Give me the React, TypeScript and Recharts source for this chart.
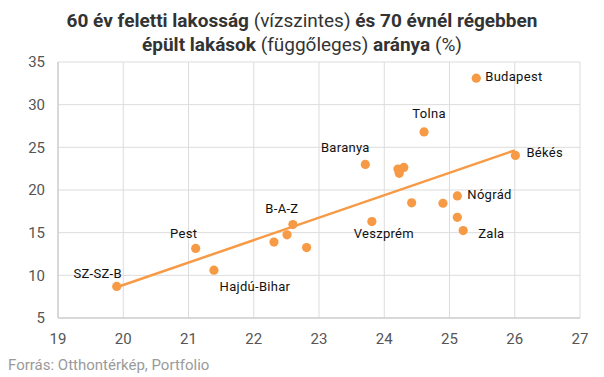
import React from 'react';
import { ScatterChart, Scatter, XAxis, YAxis, CartesianGrid, ReferenceLine } from 'recharts';

const names = ['SZ-SZ-B', 'Pest', 'Hajdú-Bihar', '', '', 'B-A-Z', '', 'Veszprém', '', '', 'Nógrád', '', 'Zala', 'Baranya', '', '', '', 'Tolna', 'Budapest', 'Békés'];
const xValues = [19.9, 21.11, 21.39, 22.31, 22.51, 22.6, 22.81, 23.81, 24.42, 24.9, 25.12, 25.12, 25.21, 23.71, 24.21, 24.23, 24.3, 24.61, 25.41, 26.01];
const yValues = [8.7, 13.15, 10.6, 13.9, 14.75, 15.95, 13.25, 16.3, 18.5, 18.45, 19.3, 16.8, 15.25, 23.0, 22.45, 21.95, 22.65, 26.8, 33.1, 24.05];
const trendX = [19.9, 26.0];
const trendY = [8.6, 24.65];
const xTicks = [19, 20, 21, 22, 23, 24, 25, 26, 27];
const yTicks = [5, 10, 15, 20, 25, 30, 35];

const data = names.map((n, i) => ({ name: n, x: xValues[i], y: yValues[i] }));

// label placement (style only): dx, dy, anchor
const labelPos: Record<string, [number, number, string]> = {
  'SZ-SZ-B': [-19, -8, 'middle'],
  'Pest': [-12, -10, 'middle'],
  'Hajdú-Bihar': [41, 21, 'middle'],
  'B-A-Z': [-11, -12, 'middle'],
  'Veszprém': [12, 16, 'middle'],
  'Nógrád': [10, 3, 'start'],
  'Zala': [15, 7, 'start'],
  'Baranya': [-20, -12, 'middle'],
  'Tolna': [5, -14, 'middle'],
  'Budapest': [9, 3, 'start'],
  'Békés': [11, 2, 'start'],
};

const COLOR = '#F79A45';
const FONT = 'Roboto, sans-serif';

const Dot = (props: any) => {
  const { cx, cy, payload } = props;
  const p = labelPos[payload.name];
  return (
    <g>
      <circle cx={cx} cy={cy} r={4.6} fill={COLOR} />
      {p && (
        <text x={cx + p[0]} y={cy + p[1]} textAnchor={p[2] as any} fontSize={13} fill="#111" fontFamily={FONT} letterSpacing={0.3}>
          {payload.name}
        </text>
      )}
    </g>
  );
};

export default function App() {
  return (
    <div style={{ position: 'absolute', left: 0, top: 0, width: 604, height: 377, background: '#fff', fontFamily: FONT }}>
      <div style={{ position: 'absolute', left: 0, top: 9, width: 604, textAlign: 'center', fontSize: 19, lineHeight: '24px', color: '#333' }}>
        <b>60 év feletti lakosság</b> (vízszintes) <b>és 70 évnél régebben</b>
        <br />
        <b>épült lakások</b> (függőleges) <b>aránya</b> (%)
      </div>
      <div style={{ position: 'absolute', left: 0, top: 0 }}>
        <ScatterChart width={604} height={377} margin={{ top: 62, right: 24, bottom: 29, left: 0 }}>
          <CartesianGrid stroke="#dcdcdc" strokeWidth={1} />
          <XAxis
            type="number"
            dataKey="x"
            domain={[19, 27]}
            ticks={xTicks}
            tickLine={false}
            axisLine={{ stroke: '#c4c4c4' }}
            tickSize={0}
            tickMargin={15}
            height={30}
            tick={{ fontSize: 15, fill: '#555', fontFamily: FONT }}
            interval={0}
          />
          <YAxis
            type="number"
            dataKey="y"
            domain={[5, 35]}
            ticks={yTicks}
            tickLine={false}
            axisLine={{ stroke: '#c4c4c4' }}
            tickSize={0}
            tickMargin={13}
            width={58}
            tick={{ fontSize: 15, fill: '#555', fontFamily: FONT }}
            interval={0}
          />
          <ReferenceLine
            segment={[{ x: trendX[0], y: trendY[0] }, { x: trendX[1], y: trendY[1] }]}
            stroke={COLOR}
            strokeWidth={2.5}
            ifOverflow="visible"
          />
          <Scatter data={data} fill={COLOR} shape={Dot} isAnimationActive={false} />
        </ScatterChart>
      </div>
      <div style={{ position: 'absolute', left: 8, top: 356, fontSize: 15, color: '#9a9a9a' }}>
        Forrás: Otthontérkép, Portfolio
      </div>
    </div>
  );
}
